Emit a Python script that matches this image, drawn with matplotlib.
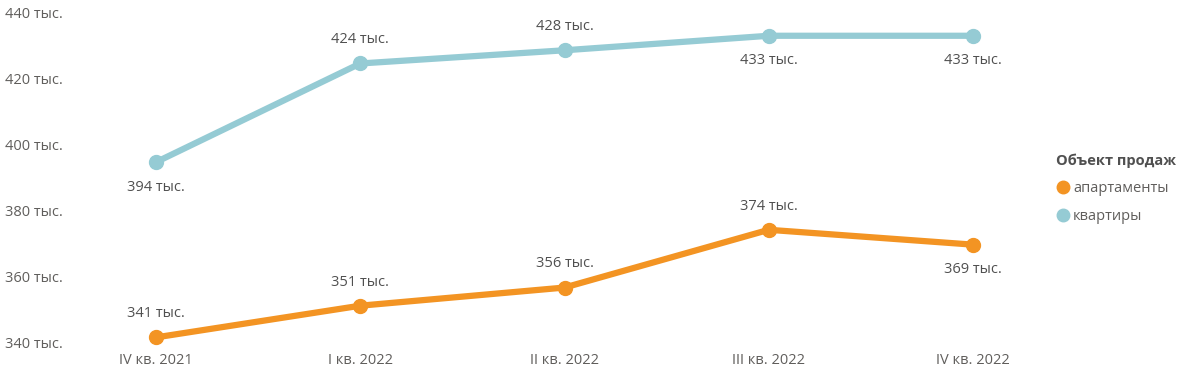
import matplotlib.pyplot as plt
from matplotlib.lines import Line2D

plt.rcParams['font.family'] = ['Open Sans', 'DejaVu Sans']

# data
quarters = ['IV кв. 2021', 'I кв. 2022', 'II кв. 2022', 'III кв. 2022', 'IV кв. 2022']
flats = [394.5, 424.4, 428.4, 432.8, 432.8]
flats_labels = ['394 тыс.', '424 тыс.', '428 тыс.', '433 тыс.', '433 тыс.']
flats_pos = ['below', 'above', 'above', 'below', 'below']
apartments = [341.4, 351.0, 356.5, 374.0, 369.5]
apart_labels = ['341 тыс.', '351 тыс.', '356 тыс.', '374 тыс.', '369 тыс.']
apart_pos = ['above', 'above', 'above', 'above', 'below']
yticks = [340, 360, 380, 400, 420, 440]

c_flats = '#95CBD4'
c_apart = '#F39423'
txt = '#605E5C'

W, H = 1178, 373
fig = plt.figure(figsize=(W / 100, H / 100), dpi=100)
ax = fig.add_axes([65 / W, 1 - 342 / H, (1040 - 65) / W, 330 / H])

x = list(range(len(quarters)))
ax.plot(x, flats, color=c_flats, lw=4.5, marker='o', ms=10, clip_on=False,
        solid_capstyle='round')
ax.plot(x, apartments, color=c_apart, lw=4.5, marker='o', ms=10, clip_on=False,
        solid_capstyle='round')

for vals, labels, pos in [(flats, flats_labels, flats_pos), (apartments, apart_labels, apart_pos)]:
    for i, (v, lab, p) in enumerate(zip(vals, labels, pos)):
        dy = 17 if p == 'above' else -18
        ax.annotate(lab, (i, v), xytext=(0, dy), textcoords='offset points',
                    ha='center', va='center', fontsize=10.5, color='#505050')

ax.set_xlim(-(156 - 65) / 204.25, 4 + (1040 - 973) / 204.25)
ax.set_ylim(340, 440)
ax.set_xticks(x)
ax.set_xticklabels(quarters)
ax.set_yticks(yticks)
ax.set_yticklabels([f'{t} тыс.' for t in yticks])
ax.tick_params(length=0, labelsize=10.5, labelcolor=txt)
ax.tick_params(axis='x', pad=8)
for s in ax.spines.values():
    s.set_visible(False)
for lab in ax.get_yticklabels():
    lab.set_horizontalalignment('left')
    lab.set_x(-0.0565)

handles = [Line2D([], [], color=c_apart, marker='o', ls='', ms=9),
           Line2D([], [], color=c_flats, marker='o', ls='', ms=9)]
leg = fig.legend(handles, ['апартаменты', 'квартиры'], title='Объект продаж',
                 loc='upper left', bbox_to_anchor=(1043 / W, 1 - 140 / H),
                 frameon=False, fontsize=10.5, title_fontsize=10.5,
                 handletextpad=0.15, handlelength=1.0, labelspacing=0.9,
                 alignment='left', labelcolor=txt)
leg.get_title().set_fontweight('bold')
leg.get_title().set_color('#505050')

fig.savefig('out.png', dpi=100)
